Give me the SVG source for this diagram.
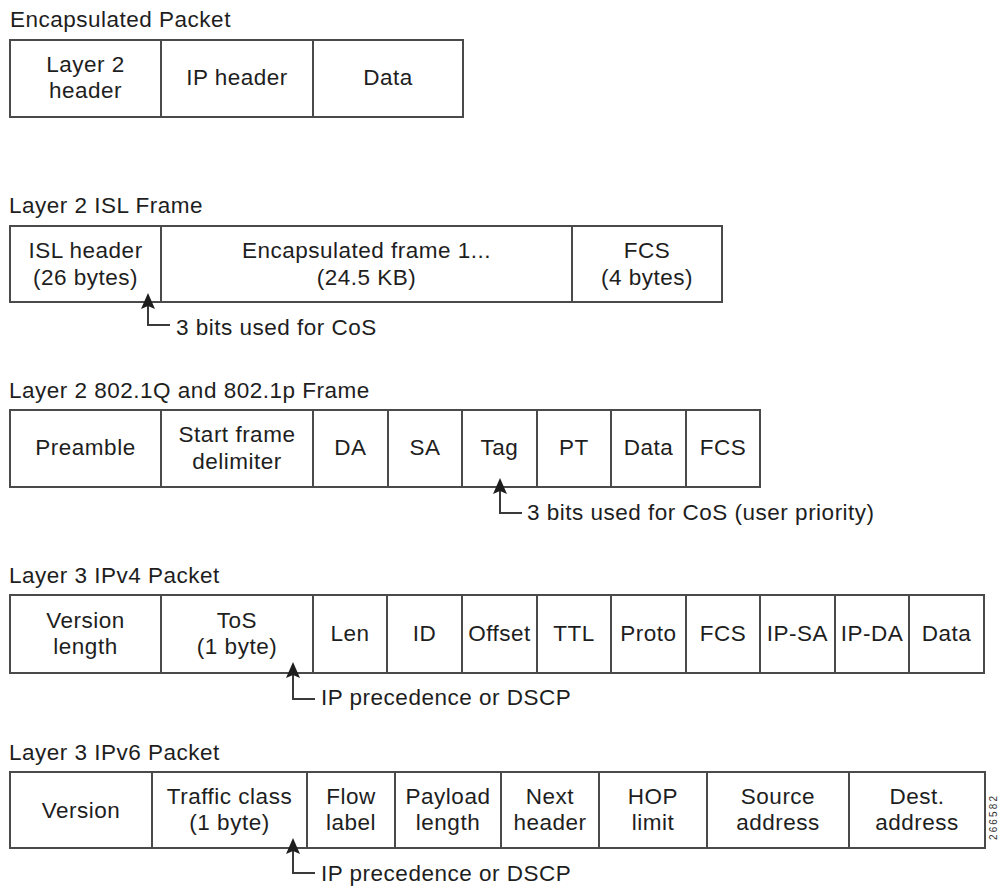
<svg xmlns="http://www.w3.org/2000/svg" width="1003" height="886" viewBox="0 0 1003 886">
<style>
.bg{fill:#ffffff}
.cell{fill:#ffffff;stroke:#4a4a4a;stroke-width:2}
.t{font-family:"Liberation Sans",Arial,sans-serif;font-size:22.5px;letter-spacing:0.5px;fill:#1e1e1e}
.c{text-anchor:middle}
.conn{fill:none;stroke:#3a3a3a;stroke-width:2}
.fig{font-family:"Liberation Sans",Arial,sans-serif;font-size:10px;fill:#333333}
</style>
<defs>
<marker id="arr" viewBox="0 0 16 14" refX="6" refY="7" markerWidth="16" markerHeight="14" markerUnits="userSpaceOnUse" orient="auto">
<path d="M0,0 L16,7 L0,14 L3,7 z" fill="#1e1e1e"/>
</marker>
</defs>
<rect class="bg" x="0" y="0" width="1003" height="886"/>

<!-- Section 1 -->
<g id="encapsulated-packet">
<text class="t" x="10" y="27">Encapsulated Packet</text>
<g id="ep-l2"><rect class="cell" x="10" y="40" width="151" height="77"/><text class="t c" x="85.5" y="72">Layer 2</text><text class="t c" x="85.5" y="98">header</text></g>
<g id="ep-ip"><rect class="cell" x="161" y="40" width="152" height="77"/><text class="t c" x="237" y="85">IP header</text></g>
<g id="ep-data"><rect class="cell" x="313" y="40" width="150" height="77"/><text class="t c" x="388" y="85">Data</text></g>
</g>

<!-- Section 2 -->
<g id="isl-frame">
<text class="t" x="9" y="213">Layer 2 ISL Frame</text>
<g id="isl-header"><rect class="cell" x="10" y="226" width="151" height="76"/><text class="t c" x="85.5" y="258">ISL header</text><text class="t c" x="85.5" y="285">(26 bytes)</text></g>
<g id="isl-enc"><rect class="cell" x="161" y="226" width="411" height="76"/><text class="t c" x="366.5" y="258">Encapsulated frame 1...</text><text class="t c" x="366.5" y="285">(24.5 KB)</text></g>
<g id="isl-fcs"><rect class="cell" x="572" y="226" width="150" height="76"/><text class="t c" x="647" y="258">FCS</text><text class="t c" x="647" y="285">(4 bytes)</text></g>
<text id="isl-note" class="t" x="176" y="335">3 bits used for CoS</text>
</g>

<!-- Section 3 -->
<g id="dot1q-frame">
<text class="t" x="9" y="398">Layer 2 802.1Q and 802.1p Frame</text>
<g id="q-pre"><rect class="cell" x="10" y="410" width="151" height="77"/><text class="t c" x="85.5" y="455">Preamble</text></g>
<g id="q-sfd"><rect class="cell" x="161" y="410" width="152" height="77"/><text class="t c" x="237" y="442">Start frame</text><text class="t c" x="237" y="469">delimiter</text></g>
<g id="q-da"><rect class="cell" x="313" y="410" width="75" height="77"/><text class="t c" x="350.5" y="455">DA</text></g>
<g id="q-sa"><rect class="cell" x="388" y="410" width="74" height="77"/><text class="t c" x="425" y="455">SA</text></g>
<g id="q-tag"><rect class="cell" x="462" y="410" width="75" height="77"/><text class="t c" x="499.5" y="455">Tag</text></g>
<g id="q-pt"><rect class="cell" x="537" y="410" width="74" height="77"/><text class="t c" x="574" y="455">PT</text></g>
<g id="q-data"><rect class="cell" x="611" y="410" width="75" height="77"/><text class="t c" x="648.5" y="455">Data</text></g>
<g id="q-fcs"><rect class="cell" x="686" y="410" width="74" height="77"/><text class="t c" x="723" y="455">FCS</text></g>
<text id="q-note" class="t" x="527" y="520">3 bits used for CoS (user priority)</text>
</g>

<!-- Section 4 -->
<g id="ipv4-packet">
<text class="t" x="9" y="583">Layer 3 IPv4 Packet</text>
<g id="v4-ver"><rect class="cell" x="10" y="595" width="151" height="78"/><text class="t c" x="85.5" y="628">Version</text><text class="t c" x="85.5" y="654">length</text></g>
<g id="v4-tos"><rect class="cell" x="161" y="595" width="152" height="78"/><text class="t c" x="237" y="628">ToS</text><text class="t c" x="237" y="654">(1 byte)</text></g>
<g id="v4-len"><rect class="cell" x="313" y="595" width="74" height="78"/><text class="t c" x="350" y="641">Len</text></g>
<g id="v4-id"><rect class="cell" x="387" y="595" width="75" height="78"/><text class="t c" x="424.5" y="641">ID</text></g>
<g id="v4-off"><rect class="cell" x="462" y="595" width="75" height="78"/><text class="t c" x="499.5" y="641">Offset</text></g>
<g id="v4-ttl"><rect class="cell" x="537" y="595" width="74" height="78"/><text class="t c" x="574" y="641">TTL</text></g>
<g id="v4-proto"><rect class="cell" x="611" y="595" width="75" height="78"/><text class="t c" x="648.5" y="641">Proto</text></g>
<g id="v4-fcs"><rect class="cell" x="686" y="595" width="74" height="78"/><text class="t c" x="723" y="641">FCS</text></g>
<g id="v4-sa"><rect class="cell" x="760" y="595" width="75" height="78"/><text class="t c" x="797.5" y="641">IP-SA</text></g>
<g id="v4-da"><rect class="cell" x="835" y="595" width="74" height="78"/><text class="t c" x="872" y="641">IP-DA</text></g>
<g id="v4-data"><rect class="cell" x="909" y="595" width="75" height="78"/><text class="t c" x="946.5" y="641">Data</text></g>
<text id="v4-note" class="t" x="321" y="705">IP precedence or DSCP</text>
</g>

<!-- Section 5 -->
<g id="ipv6-packet">
<text class="t" x="9" y="760">Layer 3 IPv6 Packet</text>
<g id="v6-ver"><rect class="cell" x="10" y="772" width="142" height="76"/><text class="t c" x="81" y="818">Version</text></g>
<g id="v6-tc"><rect class="cell" x="152" y="772" width="155" height="76"/><text class="t c" x="229.5" y="804">Traffic class</text><text class="t c" x="229.5" y="830">(1 byte)</text></g>
<g id="v6-flow"><rect class="cell" x="307" y="772" width="88" height="76"/><text class="t c" x="351" y="804">Flow</text><text class="t c" x="351" y="830">label</text></g>
<g id="v6-pl"><rect class="cell" x="395" y="772" width="106" height="76"/><text class="t c" x="448" y="804">Payload</text><text class="t c" x="448" y="830">length</text></g>
<g id="v6-nh"><rect class="cell" x="501" y="772" width="98" height="76"/><text class="t c" x="550" y="804">Next</text><text class="t c" x="550" y="830">header</text></g>
<g id="v6-hop"><rect class="cell" x="599" y="772" width="108" height="76"/><text class="t c" x="653" y="804">HOP</text><text class="t c" x="653" y="830">limit</text></g>
<g id="v6-src"><rect class="cell" x="707" y="772" width="142" height="76"/><text class="t c" x="778" y="804">Source</text><text class="t c" x="778" y="830">address</text></g>
<g id="v6-dst"><rect class="cell" x="849" y="772" width="136" height="76"/><text class="t c" x="917" y="804">Dest.</text><text class="t c" x="917" y="830">address</text></g>
<text id="v6-note" class="t" x="321" y="881">IP precedence or DSCP</text>
</g>

<text id="fig-number" class="fig" transform="translate(997,818) rotate(-90)" text-anchor="middle" textLength="44" lengthAdjust="spacing">266582</text>

<!-- Connectors -->
<g id="connectors">
<polyline class="conn" points="170,325 148,325 148,303" marker-end="url(#arr)"/>
<polyline class="conn" points="522,513 500,513 500,488" marker-end="url(#arr)"/>
<polyline class="conn" points="315,699 293,699 293,672" marker-end="url(#arr)"/>
<polyline class="conn" points="315,873 293,873 293,848" marker-end="url(#arr)"/>
</g>
</svg>
